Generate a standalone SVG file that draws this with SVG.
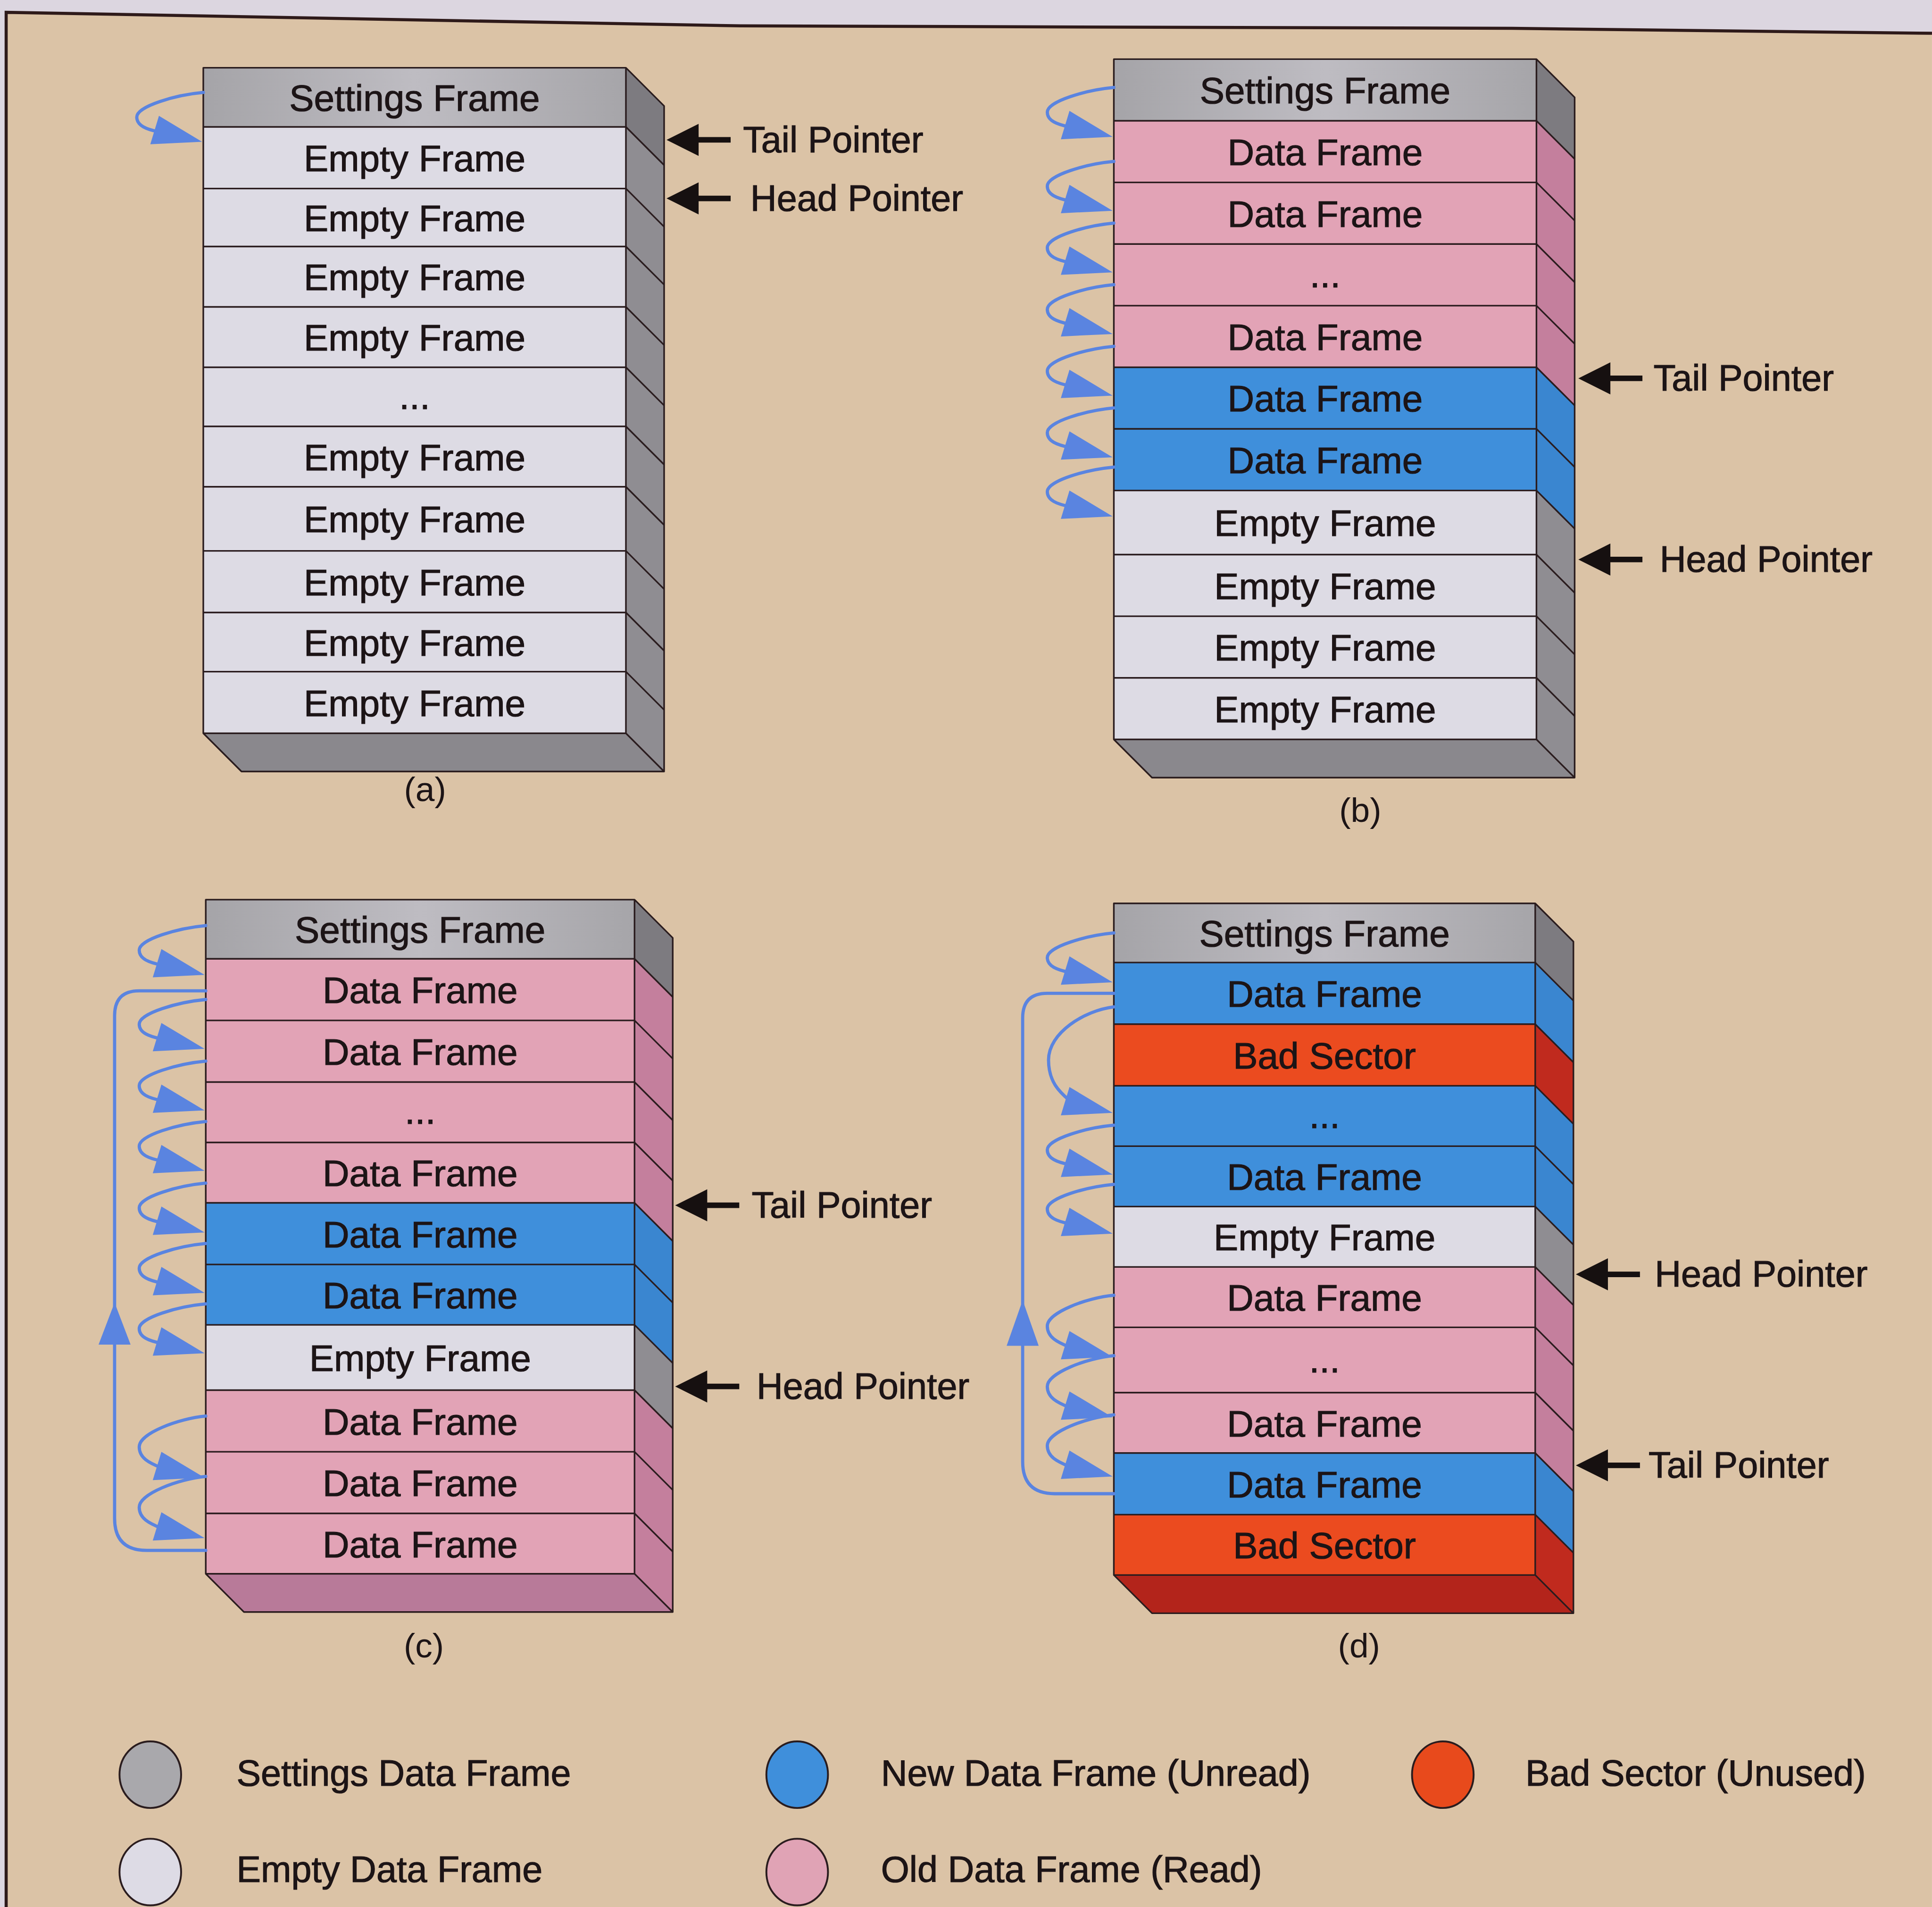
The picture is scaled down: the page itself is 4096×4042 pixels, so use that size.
<svg xmlns="http://www.w3.org/2000/svg" width="4096" height="4042" viewBox="0 0 4096 4042">
<style>
.t{font-family:"Liberation Sans",Arial,sans-serif;font-size:30px;fill:#1c1416;stroke:#1c1416;stroke-width:0.45;text-anchor:middle}
.pl{font-family:"Liberation Sans",Arial,sans-serif;font-size:29.6px;fill:#1c1416;stroke:#1c1416;stroke-width:0.45}
.cap{font-family:"Liberation Sans",Arial,sans-serif;font-size:28px;fill:#1c1416;text-anchor:middle}
.S{fill:url(#gS)}.E{fill:#dddbe4}.P{fill:#e2a3b6}.B{fill:#3f8fdb}.R{fill:#eb4b1f}
.sS{fill:#7d7b80}.sE{fill:#8f8d92}.sP{fill:#c47f9d}.sB{fill:#3a86d0}.sR{fill:#c02a1e}
.bG{fill:#8a888d}.bP{fill:#b87a99}.bR{fill:#b3241b}
.ln{fill:none;stroke:#2a1c1e;stroke-width:1.3;stroke-linejoin:round}
.cu{fill:none;stroke:#5a84e0;stroke-width:2.6;stroke-linecap:round;stroke-linejoin:round}
.ah{fill:#5a84e0}
</style>
<defs>
<linearGradient id="gS" x1="0" y1="0" x2="1" y2="0">
<stop offset="0" stop-color="#a5a4a8"/><stop offset="0.5" stop-color="#bebcc2"/><stop offset="1" stop-color="#a6a5a9"/>
</linearGradient>
<g id="c40"><path d="M0,0 C-22,2 -54,11 -54,20 C-54,27 -46,30 -36,32" fill="none" stroke="#5a84e0" stroke-width="2.6" stroke-linecap="round"/><polygon points="-1,40 -36,19 -43,42" fill="#5a84e0"/></g>
<g id="c50"><path d="M0,0 C-22,2 -54,14 -54,25 C-54,34 -46,38 -36,42" fill="none" stroke="#5a84e0" stroke-width="2.6" stroke-linecap="round"/><polygon points="-1,50 -36,29 -43,52" fill="#5a84e0"/></g>
<g id="ptr"><path d="M20,0 H52" stroke="#161010" stroke-width="4.5"/><polygon points="0,0 26,-13 26,13" fill="#161010"/></g>
</defs>
<g transform="scale(2.6122)">
<rect x="0" y="0" width="1568" height="1548" fill="#dbc3a6"/>
<polygon points="0,0 1568,0 1568,27 1227,23 601,21 5,10 5,1548 0,1548" fill="#dcd6e0"/>
<polyline points="5,1548 5,10 601,21 1227,23 1568,27" fill="none" stroke="#2e1a1a" stroke-width="2.5"/>

<!-- Panel (a) -->
<g id="stack-a">
<g id="a-r0"><rect class="S" x="165" y="55" width="343" height="48"/><polygon class="sS" points="508,55 539,86 539,134 508,103"/><text class="t" x="336.5" y="90">Settings Frame</text></g>
<g id="a-r1"><rect class="E" x="165" y="103" width="343" height="50"/><polygon class="sE" points="508,103 539,134 539,184 508,153"/><text class="t" x="336.5" y="139">Empty Frame</text></g>
<g id="a-r2"><rect class="E" x="165" y="153" width="343" height="47"/><polygon class="sE" points="508,153 539,184 539,231 508,200"/><text class="t" x="336.5" y="187.5">Empty Frame</text></g>
<g id="a-r3"><rect class="E" x="165" y="200" width="343" height="49"/><polygon class="sE" points="508,200 539,231 539,280 508,249"/><text class="t" x="336.5" y="235.5">Empty Frame</text></g>
<g id="a-r4"><rect class="E" x="165" y="249" width="343" height="49"/><polygon class="sE" points="508,249 539,280 539,329 508,298"/><text class="t" x="336.5" y="284.5">Empty Frame</text></g>
<g id="a-r5"><rect class="E" x="165" y="298" width="343" height="48"/><polygon class="sE" points="508,298 539,329 539,377 508,346"/><text class="t" x="336.5" y="332">...</text></g>
<g id="a-r6"><rect class="E" x="165" y="346" width="343" height="49"/><polygon class="sE" points="508,346 539,377 539,426 508,395"/><text class="t" x="336.5" y="381.5">Empty Frame</text></g>
<g id="a-r7"><rect class="E" x="165" y="395" width="343" height="52"/><polygon class="sE" points="508,395 539,426 539,478 508,447"/><text class="t" x="336.5" y="432">Empty Frame</text></g>
<g id="a-r8"><rect class="E" x="165" y="447" width="343" height="50"/><polygon class="sE" points="508,447 539,478 539,528 508,497"/><text class="t" x="336.5" y="483">Empty Frame</text></g>
<g id="a-r9"><rect class="E" x="165" y="497" width="343" height="48"/><polygon class="sE" points="508,497 539,528 539,576 508,545"/><text class="t" x="336.5" y="532">Empty Frame</text></g>
<g id="a-r10"><rect class="E" x="165" y="545" width="343" height="50"/><polygon class="sE" points="508,545 539,576 539,626 508,595"/><text class="t" x="336.5" y="581">Empty Frame</text></g>
<polygon class="bG" points="165,595 508,595 539,626 196,626"/>
<path class="ln" d="M165,103H508M165,153H508M165,200H508M165,249H508M165,298H508M165,346H508M165,395H508M165,447H508M165,497H508M165,545H508M508,103l31,31M508,153l31,31M508,200l31,31M508,249l31,31M508,298l31,31M508,346l31,31M508,395l31,31M508,447l31,31M508,497l31,31M508,545l31,31"/>
<path class="ln" d="M165,55H508V595H165ZM508,55l31,31V626L508,595M165,595l31,31H539"/>
<text class="cap" x="345" y="650">(a)</text>
</g>

<!-- Panel (b) -->
<g id="stack-b">
<g id="b-r0"><rect class="S" x="904" y="48" width="343" height="50"/><polygon class="sS" points="1247,48 1278,79 1278,129 1247,98"/><text class="t" x="1075.5" y="84">Settings Frame</text></g>
<g id="b-r1"><rect class="P" x="904" y="98" width="343" height="50"/><polygon class="sP" points="1247,98 1278,129 1278,179 1247,148"/><text class="t" x="1075.5" y="134">Data Frame</text></g>
<g id="b-r2"><rect class="P" x="904" y="148" width="343" height="50"/><polygon class="sP" points="1247,148 1278,179 1278,229 1247,198"/><text class="t" x="1075.5" y="184">Data Frame</text></g>
<g id="b-r3"><rect class="P" x="904" y="198" width="343" height="50"/><polygon class="sP" points="1247,198 1278,229 1278,279 1247,248"/><text class="t" x="1075.5" y="233">...</text></g>
<g id="b-r4"><rect class="P" x="904" y="248" width="343" height="50"/><polygon class="sP" points="1247,248 1278,279 1278,329 1247,298"/><text class="t" x="1075.5" y="284">Data Frame</text></g>
<g id="b-r5"><rect class="B" x="904" y="298" width="343" height="50"/><polygon class="sB" points="1247,298 1278,329 1278,379 1247,348"/><text class="t" x="1075.5" y="334">Data Frame</text></g>
<g id="b-r6"><rect class="B" x="904" y="348" width="343" height="50"/><polygon class="sB" points="1247,348 1278,379 1278,429 1247,398"/><text class="t" x="1075.5" y="384">Data Frame</text></g>
<g id="b-r7"><rect class="E" x="904" y="398" width="343" height="52"/><polygon class="sE" points="1247,398 1278,429 1278,481 1247,450"/><text class="t" x="1075.5" y="435">Empty Frame</text></g>
<g id="b-r8"><rect class="E" x="904" y="450" width="343" height="50"/><polygon class="sE" points="1247,450 1278,481 1278,531 1247,500"/><text class="t" x="1075.5" y="486">Empty Frame</text></g>
<g id="b-r9"><rect class="E" x="904" y="500" width="343" height="50"/><polygon class="sE" points="1247,500 1278,531 1278,581 1247,550"/><text class="t" x="1075.5" y="536">Empty Frame</text></g>
<g id="b-r10"><rect class="E" x="904" y="550" width="343" height="50"/><polygon class="sE" points="1247,550 1278,581 1278,631 1247,600"/><text class="t" x="1075.5" y="586">Empty Frame</text></g>
<polygon class="bG" points="904,600 1247,600 1278,631 935,631"/>
<path class="ln" d="M904,98H1247M904,148H1247M904,198H1247M904,248H1247M904,298H1247M904,348H1247M904,398H1247M904,450H1247M904,500H1247M904,550H1247M1247,98l31,31M1247,148l31,31M1247,198l31,31M1247,248l31,31M1247,298l31,31M1247,348l31,31M1247,398l31,31M1247,450l31,31M1247,500l31,31M1247,550l31,31"/>
<path class="ln" d="M904,48H1247V600H904ZM1247,48l31,31V631L1247,600M904,600l31,31H1278"/>
<text class="cap" x="1104" y="667">(b)</text>
</g>

<!-- Panel (c) -->
<g id="stack-c">
<g id="c-r0"><rect class="S" x="167" y="730" width="348" height="48"/><polygon class="sS" points="515,730 546,761 546,809 515,778"/><text class="t" x="341" y="765">Settings Frame</text></g>
<g id="c-r1"><rect class="P" x="167" y="778" width="348" height="50"/><polygon class="sP" points="515,778 546,809 546,859 515,828"/><text class="t" x="341" y="814">Data Frame</text></g>
<g id="c-r2"><rect class="P" x="167" y="828" width="348" height="50"/><polygon class="sP" points="515,828 546,859 546,909 515,878"/><text class="t" x="341" y="864">Data Frame</text></g>
<g id="c-r3"><rect class="P" x="167" y="878" width="348" height="49"/><polygon class="sP" points="515,878 546,909 546,958 515,927"/><text class="t" x="341" y="912">...</text></g>
<g id="c-r4"><rect class="P" x="167" y="927" width="348" height="49"/><polygon class="sP" points="515,927 546,958 546,1007 515,976"/><text class="t" x="341" y="962.5">Data Frame</text></g>
<g id="c-r5"><rect class="B" x="167" y="976" width="348" height="50"/><polygon class="sB" points="515,976 546,1007 546,1057 515,1026"/><text class="t" x="341" y="1012">Data Frame</text></g>
<g id="c-r6"><rect class="B" x="167" y="1026" width="348" height="49"/><polygon class="sB" points="515,1026 546,1057 546,1106 515,1075"/><text class="t" x="341" y="1061.5">Data Frame</text></g>
<g id="c-r7"><rect class="E" x="167" y="1075" width="348" height="53"/><polygon class="sE" points="515,1075 546,1106 546,1159 515,1128"/><text class="t" x="341" y="1112.5">Empty Frame</text></g>
<g id="c-r8"><rect class="P" x="167" y="1128" width="348" height="50"/><polygon class="sP" points="515,1128 546,1159 546,1209 515,1178"/><text class="t" x="341" y="1164">Data Frame</text></g>
<g id="c-r9"><rect class="P" x="167" y="1178" width="348" height="50"/><polygon class="sP" points="515,1178 546,1209 546,1259 515,1228"/><text class="t" x="341" y="1214">Data Frame</text></g>
<g id="c-r10"><rect class="P" x="167" y="1228" width="348" height="49"/><polygon class="sP" points="515,1228 546,1259 546,1308 515,1277"/><text class="t" x="341" y="1263.5">Data Frame</text></g>
<polygon class="bP" points="167,1277 515,1277 546,1308 198,1308"/>
<path class="ln" d="M167,778H515M167,828H515M167,878H515M167,927H515M167,976H515M167,1026H515M167,1075H515M167,1128H515M167,1178H515M167,1228H515M515,778l31,31M515,828l31,31M515,878l31,31M515,927l31,31M515,976l31,31M515,1026l31,31M515,1075l31,31M515,1128l31,31M515,1178l31,31M515,1228l31,31"/>
<path class="ln" d="M167,730H515V1277H167ZM515,730l31,31V1308L515,1277M167,1277l31,31H546"/>
<text class="cap" x="344" y="1345">(c)</text>
</g>

<!-- Panel (d) -->
<g id="stack-d">
<g id="d-r0"><rect class="S" x="904" y="733" width="342" height="48"/><polygon class="sS" points="1246,733 1277,764 1277,812 1246,781"/><text class="t" x="1075" y="768">Settings Frame</text></g>
<g id="d-r1"><rect class="B" x="904" y="781" width="342" height="50"/><polygon class="sB" points="1246,781 1277,812 1277,862 1246,831"/><text class="t" x="1075" y="817">Data Frame</text></g>
<g id="d-r2"><rect class="R" x="904" y="831" width="342" height="50"/><polygon class="sR" points="1246,831 1277,862 1277,912 1246,881"/><text class="t" x="1075" y="867">Bad Sector</text></g>
<g id="d-r3"><rect class="B" x="904" y="881" width="342" height="49"/><polygon class="sB" points="1246,881 1277,912 1277,961 1246,930"/><text class="t" x="1075" y="915.5">...</text></g>
<g id="d-r4"><rect class="B" x="904" y="930" width="342" height="49"/><polygon class="sB" points="1246,930 1277,961 1277,1010 1246,979"/><text class="t" x="1075" y="965.5">Data Frame</text></g>
<g id="d-r5"><rect class="E" x="904" y="979" width="342" height="49"/><polygon class="sE" points="1246,979 1277,1010 1277,1059 1246,1028"/><text class="t" x="1075" y="1014.5">Empty Frame</text></g>
<g id="d-r6"><rect class="P" x="904" y="1028" width="342" height="49"/><polygon class="sP" points="1246,1028 1277,1059 1277,1108 1246,1077"/><text class="t" x="1075" y="1063.5">Data Frame</text></g>
<g id="d-r7"><rect class="P" x="904" y="1077" width="342" height="53"/><polygon class="sP" points="1246,1077 1277,1108 1277,1161 1246,1130"/><text class="t" x="1075" y="1113.5">...</text></g>
<g id="d-r8"><rect class="P" x="904" y="1130" width="342" height="49"/><polygon class="sP" points="1246,1130 1277,1161 1277,1210 1246,1179"/><text class="t" x="1075" y="1165.5">Data Frame</text></g>
<g id="d-r9"><rect class="B" x="904" y="1179" width="342" height="50"/><polygon class="sB" points="1246,1179 1277,1210 1277,1260 1246,1229"/><text class="t" x="1075" y="1215">Data Frame</text></g>
<g id="d-r10"><rect class="R" x="904" y="1229" width="342" height="49"/><polygon class="sR" points="1246,1229 1277,1260 1277,1309 1246,1278"/><text class="t" x="1075" y="1264.5">Bad Sector</text></g>
<polygon class="bR" points="904,1278 1246,1278 1277,1309 935,1309"/>
<path class="ln" d="M904,781H1246M904,831H1246M904,881H1246M904,930H1246M904,979H1246M904,1028H1246M904,1077H1246M904,1130H1246M904,1179H1246M904,1229H1246M1246,781l31,31M1246,831l31,31M1246,881l31,31M1246,930l31,31M1246,979l31,31M1246,1028l31,31M1246,1077l31,31M1246,1130l31,31M1246,1179l31,31M1246,1229l31,31"/>
<path class="ln" d="M904,733H1246V1278H904ZM1246,733l31,31V1309L1246,1278M904,1278l31,31H1277"/>
<text class="cap" x="1103" y="1345">(d)</text>
</g>

<!-- Connectors -->
<g id="connectors">
<use href="#c40" x="165" y="75"/>
<use href="#c40" x="904" y="71"/>
<use href="#c40" x="904" y="131"/>
<use href="#c40" x="904" y="181"/>
<use href="#c40" x="904" y="231"/>
<use href="#c40" x="904" y="281"/>
<use href="#c40" x="904" y="331"/>
<use href="#c40" x="904" y="379"/>
<use href="#c40" x="167" y="751"/>
<use href="#c40" x="167" y="811"/>
<use href="#c40" x="167" y="861"/>
<use href="#c40" x="167" y="910"/>
<use href="#c40" x="167" y="960"/>
<use href="#c40" x="167" y="1009"/>
<use href="#c40" x="167" y="1058"/>
<use href="#c50" x="167" y="1149"/>
<use href="#c50" x="167" y="1198"/>
<path class="cu" d="M167,1258 H119 Q93,1258 93,1232 V824 Q93,804 113,804 H167"/>
<polygon class="ah" points="93,1057 80,1091 106,1091"/>
<use href="#c40" x="904" y="757"/>
<path class="cu" d="M904,817 C880,820 851,838 851,860 C851,878 860,886 868,893"/>
<polygon class="ah" points="903,903 868,882 861,905"/>
<use href="#c40" x="904" y="913"/>
<use href="#c40" x="904" y="961"/>
<use href="#c50" x="904" y="1051"/>
<use href="#c50" x="904" y="1100"/>
<use href="#c50" x="904" y="1148"/>
<path class="cu" d="M904,1212 H856 Q830,1212 830,1186 V826 Q830,806 850,806 H904"/>
<polygon class="ah" points="830,1055 817,1092 843,1092"/>
<use href="#ptr" x="541" y="113.5"/>
<use href="#ptr" x="541" y="161"/>
<use href="#ptr" x="1281" y="307"/>
<use href="#ptr" x="1281" y="454"/>
<use href="#ptr" x="548" y="978"/>
<use href="#ptr" x="548" y="1125"/>
<use href="#ptr" x="1279" y="1034"/>
<use href="#ptr" x="1279" y="1189"/>
</g>

<g id="pointer-labels">
<text class="pl" x="603" y="123.5">Tail Pointer</text>
<text class="pl" x="609" y="171">Head Pointer</text>
<text class="pl" x="1342" y="317">Tail Pointer</text>
<text class="pl" x="1347" y="464">Head Pointer</text>
<text class="pl" x="610" y="988">Tail Pointer</text>
<text class="pl" x="614" y="1135">Head Pointer</text>
<text class="pl" x="1343" y="1044">Head Pointer</text>
<text class="pl" x="1338" y="1199">Tail Pointer</text>
</g>

<!-- Legend -->
<g id="legend">
<g id="lg-settings"><ellipse cx="122" cy="1440" rx="25" ry="27" fill="#a9a8ac" stroke="#2a1c1e" stroke-width="1.5"/><text class="pl" x="192" y="1449">Settings Data Frame</text></g>
<g id="lg-new"><ellipse cx="647" cy="1440" rx="25" ry="27" fill="#3f8fdb" stroke="#2a1c1e" stroke-width="1.5"/><text class="pl" x="715" y="1449">New Data Frame (Unread)</text></g>
<g id="lg-bad"><ellipse cx="1171" cy="1440" rx="25" ry="27" fill="#e84a1c" stroke="#2a1c1e" stroke-width="1.5"/><text class="pl" x="1238" y="1449">Bad Sector (Unused)</text></g>
<g id="lg-empty"><ellipse cx="122" cy="1519" rx="25" ry="27" fill="#dddbe5" stroke="#2a1c1e" stroke-width="1.5"/><text class="pl" x="192" y="1527">Empty Data Frame</text></g>
<g id="lg-old"><ellipse cx="647" cy="1519" rx="25" ry="27" fill="#e0a3b5" stroke="#2a1c1e" stroke-width="1.5"/><text class="pl" x="715" y="1527">Old Data Frame (Read)</text></g>
</g>
</g>
</svg>
